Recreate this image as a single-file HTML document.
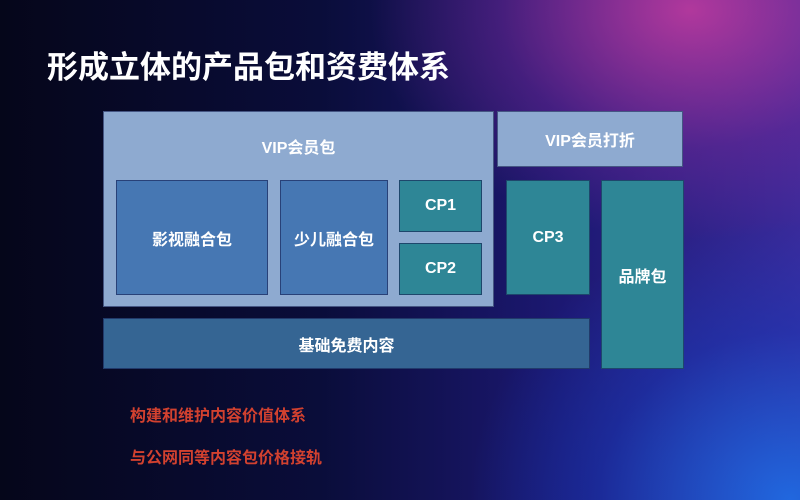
<!DOCTYPE html>
<html><head><meta charset="utf-8"><style>
*{margin:0;padding:0;box-sizing:border-box}
body{width:800px;height:500px;overflow:hidden;position:relative;font-family:"Liberation Sans","Noto Sans CJK SC",sans-serif;font-weight:bold;
background:
radial-gradient(ellipse 320px 230px at 690px 10px,rgba(200,60,160,0.85),rgba(120,40,150,0.45) 60%,transparent 100%),
radial-gradient(ellipse 320px 280px at 790px 500px,rgba(30,110,230,0.9),rgba(20,60,190,0.45) 60%,transparent 100%),
linear-gradient(90deg,#05061a 0%,#0a0d3a 40%,#1c1872 70%,#3a2a9a 100%);}
.b{position:absolute;display:flex;align-items:center;justify-content:center;color:#fff;font-size:16px;border:1px solid rgba(20,30,80,0.6)}
.lt{background:#8eaad0}
.md{background:#4677b3}
.tl{background:#2e8696}
.bs{background:#356593}
.t{position:absolute;left:130px;color:#d2412f;font-size:16px}
</style></head><body>
<div style="position:absolute;left:47px;top:42px;color:#fff;font-size:31px">形成立体的产品包和资费体系</div>
<div class="b lt" style="left:103px;top:111px;width:391px;height:196px;align-items:flex-start;padding-top:22px">VIP会员包</div>
<div class="b md" style="left:116px;top:180px;width:152px;height:115px">影视融合包</div>
<div class="b md" style="left:280px;top:180px;width:108px;height:115px">少儿融合包</div>
<div class="b tl" style="left:399px;top:180px;width:83px;height:52px">CP1</div>
<div class="b tl" style="left:399px;top:243px;width:83px;height:52px">CP2</div>
<div class="b bs" style="left:103px;top:318px;width:487px;height:51px">基础免费内容</div>
<div class="b lt" style="left:497px;top:111px;width:186px;height:56px">VIP会员打折</div>
<div class="b tl" style="left:506px;top:180px;width:84px;height:115px">CP3</div>
<div class="b tl" style="left:601px;top:180px;width:83px;height:189px">品牌包</div>
<div class="t" style="top:402px">构建和维护内容价值体系</div>
<div class="t" style="top:444px">与公网同等内容包价格接轨</div>
</body></html>
